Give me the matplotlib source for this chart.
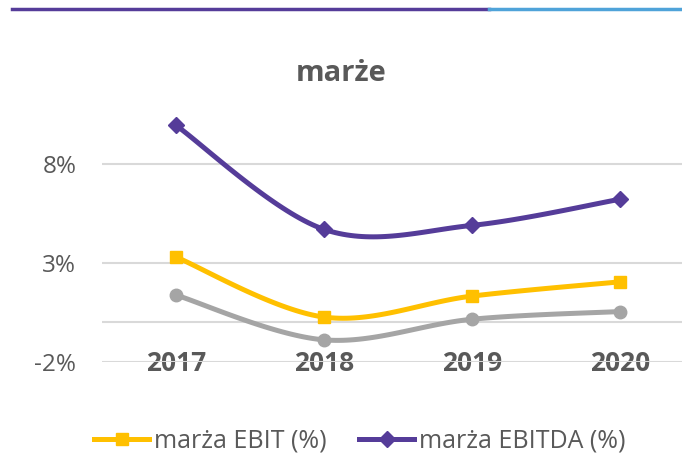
import numpy as np
import matplotlib
matplotlib.use('Agg')
import matplotlib.pyplot as plt
from matplotlib.lines import Line2D

plt.rcParams['font.family'] = ['Open Sans', 'DejaVu Sans']

# data (values in %)
years = ['2017', '2018', '2019', '2020']
ebit = [3.3, 0.27, 1.33, 2.05]
ebitda = [9.95, 4.7, 4.9, 6.22]
netto = [1.38, -0.88, 0.16, 0.55]
yticks = [-2, 3, 8]

PURPLE = '#553C99'
YELLOW = '#FFC000'
GRAY = '#A5A5A5'
TEXT = '#595959'


def smooth(xs, ys, n=40):
    """Excel-like smoothed line (cubic Bezier through the points)."""
    xs = np.asarray(xs, float)
    ys = np.asarray(ys, float)
    px = np.concatenate([[xs[0]], xs, [xs[-1]]])
    py = np.concatenate([[ys[0]], ys, [ys[-1]]])
    outx, outy = [], []
    t = np.linspace(0, 1, n)
    for i in range(1, len(px) - 2):
        x0, y0 = px[i], py[i]
        x3, y3 = px[i + 1], py[i + 1]
        x1 = x0 + (px[i + 1] - px[i - 1]) / 6
        y1 = y0 + (py[i + 1] - py[i - 1]) / 6
        x2 = x3 - (px[i + 2] - px[i]) / 6
        y2 = y3 - (py[i + 2] - py[i]) / 6
        b = [(1 - t) ** 3, 3 * (1 - t) ** 2 * t, 3 * (1 - t) * t ** 2, t ** 3]
        outx.append(b[0] * x0 + b[1] * x1 + b[2] * x2 + b[3] * x3)
        outy.append(b[0] * y0 + b[1] * y1 + b[2] * y2 + b[3] * y3)
    return np.concatenate(outx), np.concatenate(outy)


fig = plt.figure(figsize=(6.82, 4.54), dpi=100)
# plot area runs past the right edge (chart is cropped there)
ax = fig.add_axes([0.1496, 0.2026, 0.868, 0.567])

x = np.arange(len(years))
for vals, color, marker, ms in [(netto, GRAY, 'o', 9),
                                (ebit, YELLOW, 's', 9),
                                (ebitda, PURPLE, 'D', 8)]:
    sx, sy = smooth(x, vals)
    ax.plot(sx, sy, color=color, lw=3.6, solid_capstyle='round', zorder=3)
    ax.plot(x, vals, ls='none', marker=marker, color=color, ms=ms, zorder=4)

ax.set_xlim(-0.5, 3.5)
ax.set_ylim(-2, 11)
ax.set_yticks(yticks)
ax.set_yticklabels([f'{v}%' for v in yticks])
ax.grid(axis='y', color='#D9D9D9', lw=1.5)
ax.axhline(0, color='#D9D9D9', lw=1.5, zorder=1)
ax.set_axisbelow(True)
for s in ax.spines.values():
    s.set_visible(False)
ax.tick_params(axis='y', length=0, labelsize=17.5, labelcolor=TEXT, pad=18.5)
ax.set_xticks(x)
ax.set_xticklabels(years, fontweight='bold')
ax.tick_params(axis='x', length=0, labelsize=19, labelcolor=TEXT, pad=-8.5)

fig.text(0.5, 0.838, 'marże', ha='center', va='center', fontsize=21,
         fontweight='bold', color=TEXT)

handles = [Line2D([], [], color=YELLOW, lw=3.6, marker='s', ms=9),
           Line2D([], [], color=PURPLE, lw=3.6, marker='D', ms=8)]
fig.legend(handles, ['marża EBIT (%)', 'marża EBITDA (%)'], loc='center',
           bbox_to_anchor=(0.528, 0.028), ncol=2, frameon=False, fontsize=18,
           labelcolor=TEXT, handlelength=2.2, handletextpad=0.2,
           columnspacing=1.3)

# slide decoration line at the top
fig.add_artist(Line2D([0.018, 0.717], [0.98, 0.98], color=PURPLE, lw=2.5))
fig.add_artist(Line2D([0.717, 1.0], [0.98, 0.98], color='#4FA3D9', lw=2.5))

fig.savefig('out.png', dpi=100)
